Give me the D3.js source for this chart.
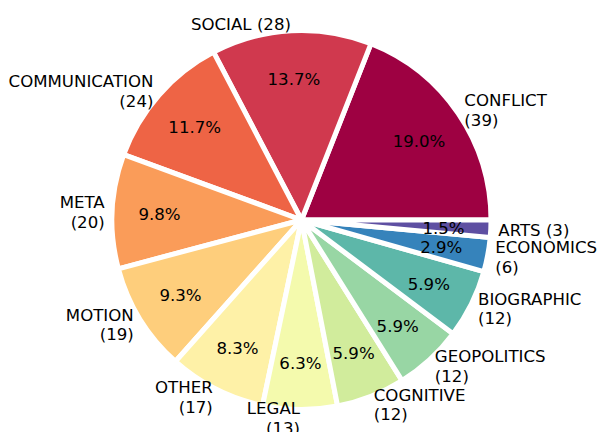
<html>
<head>
  <meta charset="utf-8" />
  <script src="https://cdnjs.cloudflare.com/ajax/libs/d3/7.8.5/d3.min.js"></script>
  <style>
    body { margin: 0; background: #fff; }
    text { font-family: "DejaVu Sans", sans-serif; fill: #000; }
  </style>
</head>
<body>
  <svg width="597" height="432"></svg>
  <script>
  // data
  const categories = ["CONFLICT", "SOCIAL", "COMMUNICATION", "META", "MOTION", "OTHER",
                      "LEGAL", "COGNITIVE", "GEOPOLITICS", "BIOGRAPHIC", "ECONOMICS", "ARTS"];
  const counts = [39, 28, 24, 20, 19, 17, 13, 12, 12, 12, 6, 3];
  // labels that sit on one line in the reference
  const oneLine = ["SOCIAL", "ARTS"];
  const colors = ["#9e0142", "#d0394e", "#ee6445", "#fa9c59", "#fece7c", "#fef1a7",
                  "#f4faad", "#d1ec9c", "#98d6a4", "#5db7a9", "#3683bb", "#5e4fa2"];

  const svg = d3.select("svg");
  const cx = 301.5, cy = 220, R = 189.5;
  const total = d3.sum(counts);
  const data = categories.map((c, i) => ({ name: c, n: counts[i], color: colors[i] }));

  // counter-clockwise from 3 o'clock, like matplotlib
  const pie = d3.pie().value(d => d.n).sort(null)
                .startAngle(Math.PI / 2).endAngle(Math.PI / 2 - 2 * Math.PI);
  const arcs = pie(data);

  const arc = d3.arc().innerRadius(0).outerRadius(R);
  const pctArc = d3.arc().innerRadius(R * 0.75).outerRadius(R * 0.75);

  const g = svg.append("g").attr("transform", `translate(${cx},${cy})`);

  g.selectAll("path.slice")
    .data(arcs)
    .enter()
    .append("path")
      .attr("class", "slice")
      .attr("d", arc)
      .attr("fill", d => d.data.color)
      .attr("stroke", "#fff")
      .attr("stroke-width", 5)
      .attr("stroke-linejoin", "round");

  const fs = "16.6px", dy = 1.5;

  // percentages
  g.selectAll("text.pct")
    .data(arcs)
    .enter()
    .append("text")
      .attr("class", "pct")
      .attr("x", d => pctArc.centroid(d)[0])
      .attr("y", d => pctArc.centroid(d)[1] + dy)
      .attr("text-anchor", "middle")
      .attr("dominant-baseline", "central")
      .style("font-size", fs)
      .text(d => d3.format(".1f")(d.data.n / total * 100) + "%");

  // outer labels
  const labelDist = 197, lineH = 19.5;
  arcs.forEach(d => {
    const a = (d.startAngle + d.endAngle) / 2;
    const x = Math.sin(a) * labelDist, y = -Math.cos(a) * labelDist;
    const lines = oneLine.includes(d.data.name)
      ? [d.data.name + " (" + d.data.n + ")"]
      : [d.data.name, "(" + d.data.n + ")"];
    const t = g.append("text")
      .attr("text-anchor", x > 0 ? "start" : "end")
      .style("font-size", fs);
    lines.forEach((s, i) => {
      t.append("tspan")
        .attr("x", x)
        .attr("y", y + dy + (i - (lines.length - 1) / 2) * lineH)
        .attr("dominant-baseline", "central")
        .text(s);
    });
  });
  </script>
</body>
</html>
